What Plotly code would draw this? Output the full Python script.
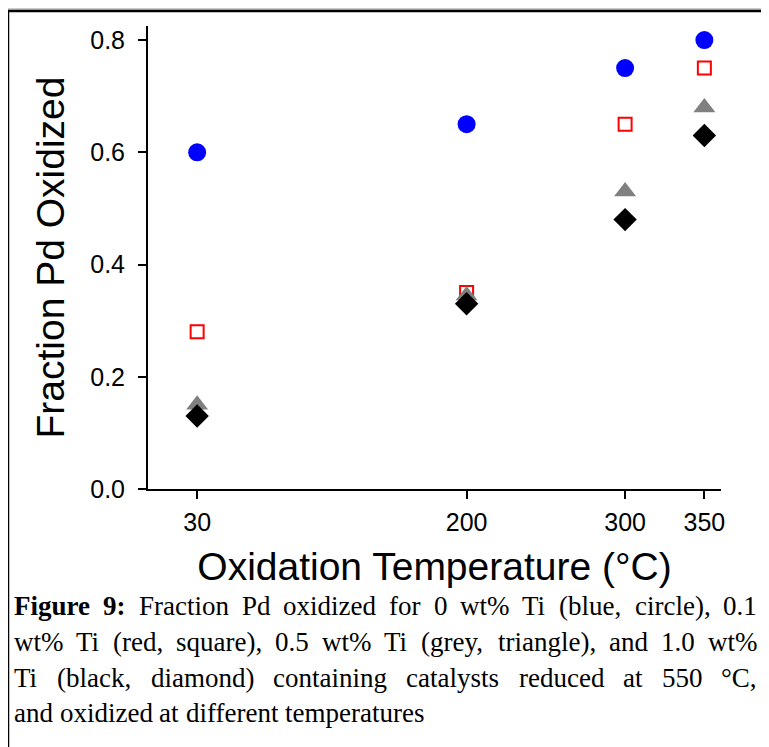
import plotly.graph_objects as go

# The page body has an 8px margin, so the figure is drawn 8px smaller and
# everything is laid out in coordinates shifted by -8 px.
OFF = 8
W, H = 769 - OFF, 747 - OFF
PL, PR, PT, PB = 148 - OFF, 721 - OFF, 26 - OFF, 489 - OFF

temps = [30, 200, 300, 350]
ti_0_0 = [0.60, 0.65, 0.75, 0.80]
ti_0_1 = [0.28, 0.35, 0.65, 0.75]
ti_0_5 = [0.15, 0.345, 0.53, 0.68]
ti_1_0 = [0.13, 0.33, 0.48, 0.63]
y_ticks = [0.0, 0.2, 0.4, 0.6, 0.8]
y_tick_labels = ["0.0", "0.2", "0.4", "0.6", "0.8"]
x_ticks = [30, 200, 300, 350]

# caption: list of (words, justified?) ; bold words marked with a leading "*"
caption_lines = [
    (["*Figure", "*9:", "Fraction", "Pd", "oxidized", "for", "0", "wt%", "Ti",
      "(blue,", "circle),", "0.1"], True),
    (["wt%", "Ti", "(red,", "square),", "0.5", "wt%", "Ti", "(grey,", "triangle),",
      "and", "1.0", "wt%"], True),
    (["Ti", "(black,", "diamond)", "containing", "catalysts", "reduced", "at",
      "550", "°C,"], True),
    (["and", "oxidized", "at", "different", "temperatures"], False),
]

TIMES = {' ': 250, '%': 833, '(': 333, ')': 333, ',': 250, '.': 250, ':': 278,
         '°': 400, 'A': 722, 'C': 667, 'F': 556, 'P': 556, 'T': 611,
         'a': 444, 'b': 500, 'c': 444, 'd': 500, 'e': 444, 'f': 333, 'g': 500,
         'h': 500, 'i': 278, 'k': 500, 'l': 278, 'm': 778, 'n': 500, 'o': 500,
         'p': 500, 'r': 333, 's': 389, 't': 278, 'u': 500, 'w': 722, 'x': 500,
         'y': 500, 'z': 444}
TIMES_B = {'F': 611, 'i': 278, 'g': 500, 'u': 556, 'r': 444, 'e': 444, ':': 333}


def text_w(word, size, bold=False):
    tot = 0
    for ch in word:
        if ch.isdigit():
            tot += 500
        elif bold and ch in TIMES_B:
            tot += TIMES_B[ch]
        else:
            tot += TIMES.get(ch, 500)
    return tot * size / 1000.0


def px(x):
    return (x - PL) / (PR - PL)


def py(y):
    return (PB - y) / (PB - PT)


fig = go.Figure()
fig.add_trace(go.Scatter(x=temps, y=ti_0_0, mode="markers", name="0 wt% Ti",
                         marker=dict(symbol="circle", size=18, color="#0000FF")))
fig.add_trace(go.Scatter(x=temps, y=ti_0_1, mode="markers", name="0.1 wt% Ti",
                         marker=dict(symbol="square-open", size=13, color="#FF0000",
                                     line=dict(width=2, color="#FF0000"))))
fig.add_trace(go.Scatter(x=temps, y=ti_0_5, mode="markers", name="0.5 wt% Ti",
                         marker=dict(symbol="triangle-up", size=19, color="#808080")))
fig.add_trace(go.Scatter(x=temps, y=ti_1_0, mode="markers", name="1.0 wt% Ti",
                         marker=dict(symbol="diamond", size=18, color="#000000")))

tickfont = dict(family="Liberation Sans, Arial, sans-serif", size=25, color="black")
titlefont = dict(family="Liberation Sans, Arial, sans-serif", size=39, color="black")

fig.update_layout(
    width=W, height=H,
    margin=dict(l=PL, r=W - PR, t=PT, b=H - PB, pad=0),
    paper_bgcolor="white", plot_bgcolor="white",
    showlegend=False,
    xaxis=dict(range=[-1, 360.5], tickvals=x_ticks, ticks="outside", ticklen=8,
               tickwidth=2, tickcolor="black", showline=True, linecolor="black",
               linewidth=2, showgrid=False, zeroline=False, tickfont=tickfont,
               ticklabelstandoff=2,
               title=dict(text="Oxidation Temperature (°C)", font=titlefont, standoff=18)),
    yaxis=dict(range=[0, 0.825], tickvals=y_ticks, ticktext=y_tick_labels,
               ticks="outside", ticklen=8, tickwidth=2, tickcolor="black",
               showline=True, linecolor="black", linewidth=2, showgrid=False,
               zeroline=False, tickfont=tickfont, ticklabelstandoff=8,
               title=dict(text="Fraction Pd Oxidized", font=titlefont, standoff=14)),
)

# outer frame lines (top and left)
fig.add_shape(type="line", xref="paper", yref="paper", x0=px(-5), x1=px(W + 5),
              y0=py(9 - OFF), y1=py(9 - OFF), line=dict(color="#999999", width=1))
fig.add_shape(type="line", xref="paper", yref="paper", x0=px(7 - OFF), x1=px(W + 5),
              y0=py(11 - OFF), y1=py(11 - OFF), line=dict(color="black", width=2.5))
fig.add_shape(type="line", xref="paper", yref="paper", x0=px(8 - OFF), x1=px(8 - OFF),
              y0=py(10 - OFF), y1=py(H + 5), line=dict(color="black", width=2.5))

CAP_SIZE = 27
cap_left, cap_right = 14 - OFF, 757 - OFF
cap_y = [606 - OFF, 642 - OFF, 678 - OFF, 713 - OFF]
for (words, just), yy in zip(caption_lines, cap_y):
    ws = [text_w(w.lstrip('*'), CAP_SIZE, w.startswith('*')) for w in words]
    if just and len(words) > 1:
        gap = (cap_right - cap_left - sum(ws)) / (len(words) - 1)
    else:
        gap = text_w(' ', CAP_SIZE)
    x = cap_left
    for w, wd in zip(words, ws):
        label = "<b>%s</b>" % w[1:] if w.startswith('*') else w
        fig.add_annotation(text=label, xref="paper", yref="paper", x=px(x), y=py(yy),
                           xanchor="left", yanchor="middle", showarrow=False,
                           borderpad=0, borderwidth=0,
                           font=dict(family="Liberation Serif, Times New Roman, serif",
                                     size=CAP_SIZE, color="black"))
        x += wd + gap

fig.write_html("out.html")
